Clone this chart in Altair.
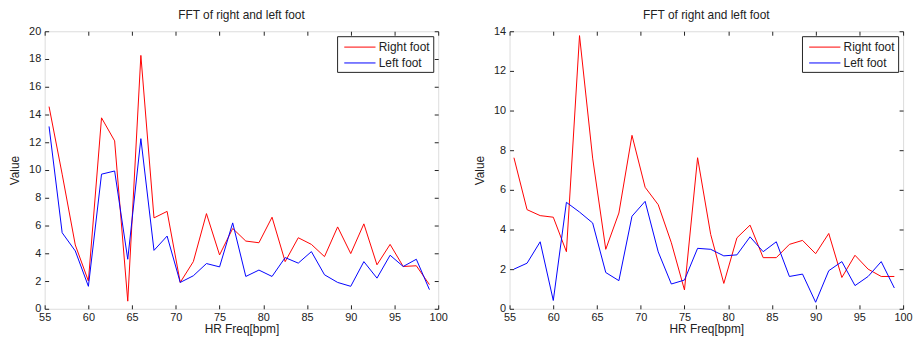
import altair as alt
import pandas as pd

# x positions (bpm), shared by both panels
freq = [55.5, 57.0, 58.5, 60.0, 61.5, 63.0, 64.5, 66.0, 67.5, 69.0,
        70.5, 72.0, 73.5, 75.0, 76.5, 78.0, 79.5, 81.0, 82.5, 84.0,
        85.5, 87.0, 88.5, 90.0, 91.5, 93.0, 94.5, 96.0, 97.5, 99.0]

# left panel
left_right_foot = [14.57, 9.7, 4.6, 2.0, 13.76, 12.1, 0.55, 18.26, 6.55, 7.02,
                   1.9, 3.4, 6.86, 3.88, 5.79, 4.88, 4.76, 6.6, 3.4, 5.12,
                   4.64, 3.76, 5.9, 3.98, 6.12, 3.17, 4.64, 3.05, 3.1, 1.74]
left_left_foot = [13.14, 5.48, 4.17, 1.62, 9.7, 9.93, 3.57, 12.26, 4.21, 5.24,
                  1.9, 2.38, 3.26, 3.02, 6.19, 2.33, 2.79, 2.33, 3.69, 3.29,
                  4.12, 2.45, 1.9, 1.62, 3.4, 2.21, 3.86, 3.05, 3.57, 1.38]

# right panel
right_right_foot = [7.62, 5.0, 4.7, 4.62, 2.88, 13.78, 7.6, 3.0, 4.83, 8.75,
                    6.13, 5.25, 3.33, 0.95, 7.62, 3.75, 1.28, 3.58, 4.22, 2.58,
                    2.58, 3.25, 3.45, 2.78, 3.8, 1.58, 2.7, 2.0, 1.63, 1.63]
right_left_foot = [2.0, 2.3, 3.38, 0.42, 5.37, 4.88, 4.33, 1.83, 1.42, 4.67,
                   5.42, 2.87, 1.25, 1.45, 3.05, 3.0, 2.67, 2.72, 3.63, 2.88,
                   3.38, 1.63, 1.75, 0.33, 1.92, 2.38, 1.17, 1.63, 2.38, 1.05]

series_names = ["Right foot", "Left foot"]
series_colors = ["#ff0000", "#0000ff"]
x_ticks = [55, 60, 65, 70, 75, 80, 85, 90, 95, 100]
y_ticks_left = [0, 2, 4, 6, 8, 10, 12, 14, 16, 18, 20]
y_ticks_right = [0, 2, 4, 6, 8, 10, 12, 14]
title_text = "FFT of right and left foot"

FONT = "Liberation Sans"
INK = "#222222"


def panel(rv, lv, ymax, yticks):
    df = pd.DataFrame({
        "f": freq + freq,
        "v": rv + lv,
        "s": [series_names[0]] * len(freq) + [series_names[1]] * len(freq),
    })
    xs = alt.Scale(domain=[55, 100], nice=False, zero=False)
    ys = alt.Scale(domain=[0, ymax], nice=False, zero=True)
    common = dict(domain=False, tickSize=4, offset=-4, tickColor=INK,
                  labelFont=FONT, labelFontSize=11, labelColor=INK,
                  titleFont=FONT, titleFontSize=12, titleColor=INK,
                  titleFontWeight="normal", labelFlush=False, grid=False,
                  labelOverlap=False)
    lines = alt.Chart(df).mark_line(strokeWidth=1, clip=True).encode(
        x=alt.X("f:Q", scale=xs, axis=alt.Axis(orient="bottom", values=x_ticks,
                                               title="HR Freq[bpm]", labelPadding=3,
                                               titlePadding=1, **common)),
        y=alt.Y("v:Q", scale=ys, axis=alt.Axis(orient="left", values=yticks,
                                               title="Value", labelPadding=4,
                                               titlePadding=7, **common)),
        color=alt.Color("s:N",
                        scale=alt.Scale(domain=series_names, range=series_colors),
                        legend=alt.Legend(title=None, orient="top-right", offset=5,
                                          fillColor="white", strokeColor=INK,
                                          padding=3, symbolType="M-2.1,0L2.1,0",
                                          symbolSize=225, symbolStrokeWidth=1,
                                          labelFont=FONT, labelFontSize=12,
                                          labelColor=INK, rowPadding=2,
                                          symbolOffset=12, labelOffset=11)),
    )
    frame = alt.Chart(df).mark_point(opacity=0).encode(
        x=alt.X("f:Q", scale=xs, axis=alt.Axis(orient="top", values=x_ticks,
                                               labels=False, title=None, **common)),
        y=alt.Y("v:Q", scale=ys, axis=alt.Axis(orient="right", values=yticks,
                                               labels=False, title=None, **common)),
    )
    return alt.layer(lines, frame).resolve_axis(x="independent", y="independent").properties(
        width=397, height=280,
        title=alt.TitleParams(title_text, font=FONT, fontSize=12, fontWeight="normal",
                              color=INK, anchor="middle", offset=3),
    )


left = panel(left_right_foot, left_left_foot, 20, y_ticks_left)
right = panel(right_right_foot, right_left_foot, 14, y_ticks_right)

chart = alt.hconcat(left, right, spacing=72, bounds="flush").resolve_scale(
    color="independent").resolve_legend(color="independent").properties(
    padding={"left": 0, "top": -1, "right": 0, "bottom": 0},
).configure_view(stroke=INK, strokeWidth=1).configure(background="white")

chart.save("out.html", embed_options={"renderer": "svg", "actions": False})
